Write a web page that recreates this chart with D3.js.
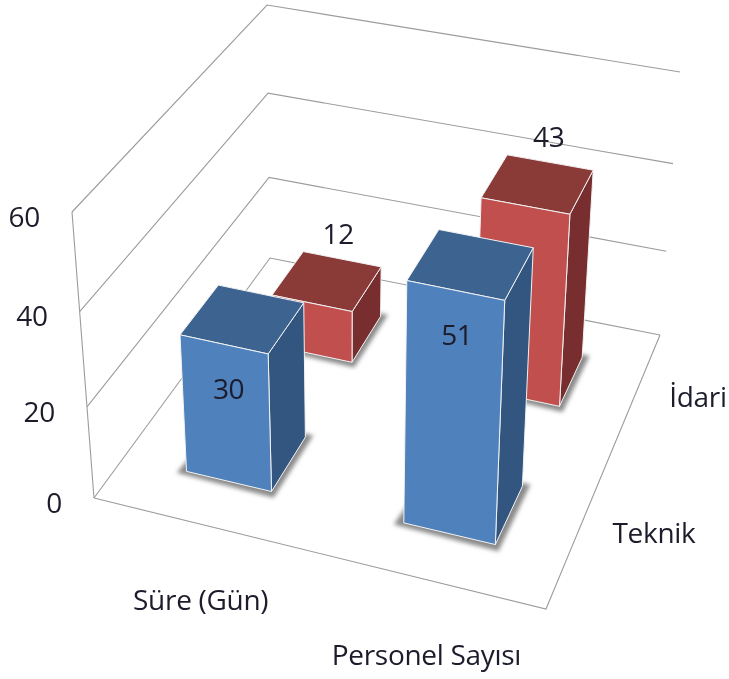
<!DOCTYPE html>
<html>
<head>
<meta charset="utf-8">
<script src="https://cdn.jsdelivr.net/npm/d3@7"></script>
<style>
  body { margin: 0; background: #fff; }
  text { font-family: "Open Sans", sans-serif; font-size: 28px; letter-spacing: -0.3px; fill: #1b1b2b; }
</style>
</head>
<body>
<div id="chart"></div>
<script>
//data
let categories = ["Süre (Gün)", "Personel Sayısı"]
let seriesNames = ["Teknik", "İdari"]
let teknik = [30, 51]
let idari = [12, 43]
let yTicks = [0, 20, 40, 60]

let width = 729
let height = 679

//the box corners on screen: fl = front left, fr = front right, br = back right, bl = back left
let floorQuad = { fl: [94, 498], fr: [546, 609], br: [660, 335], bl: [270, 258] }
let topQuad = { fl: [72, 212], fr: [562, 312], br: [680, 72], bl: [267, 5] }

//heights get a bit bigger going up, the camera is looking down
let heightPerspective = 1.07

let colors = {
  "Teknik": { front: "#4f81bd", top: "#3c6491", side: "#33577f" },
  "İdari": { front: "#c0504d", top: "#8a3a38", side: "#782f2d" }
}

//where the value labels sit relative to the middle of the bar top
let valueOffset = { "Teknik": [-14, 71], "İdari": [11, -47] }

let svg = d3.select("#chart").append("svg")
  .attr("width", width)
  .attr("height", height)
  .style("display", "block")

let defs = svg.append("defs")
defs.append("filter").attr("id", "soft")
  .append("feGaussianBlur").attr("stdDeviation", 0.55)
defs.append("filter").attr("id", "shadow")
  .attr("x", "-20%").attr("y", "-20%").attr("width", "140%").attr("height", "140%")
  .append("feGaussianBlur").attr("stdDeviation", 2)

let root = svg.append("g").attr("filter", "url(#soft)")

//scales work in unit box space, project() turns that into pixels
let xScale = d3.scaleBand(categories, [0, 1]).paddingInner(0.6).paddingOuter(0.3)
let zScale = d3.scaleBand(seriesNames, [0, 1]).paddingInner(0.6).paddingOuter(0.3)
let yScale = d3.scaleLinear([0, 60], [0, 1])

//unit square to quad homography
function makeHomography(q) {
  let [x0, y0] = q.fl, [x1, y1] = q.fr, [x2, y2] = q.br, [x3, y3] = q.bl
  let dx1 = x1 - x2, dx2 = x3 - x2, sx = x0 - x1 + x2 - x3
  let dy1 = y1 - y2, dy2 = y3 - y2, sy = y0 - y1 + y2 - y3
  let det = dx1 * dy2 - dx2 * dy1
  let g = (sx * dy2 - dx2 * sy) / det
  let h = (dx1 * sy - sx * dy1) / det
  return (u, w) => {
    let d = g * u + h * w + 1
    return [
      (x1 - x0 + g * x1) * u / d + (x3 - x0 + h * x3) * w / d + x0 / d,
      (y1 - y0 + g * y1) * u / d + (y3 - y0 + h * y3) * w / d + y0 / d
    ]
  }
}

let floorH = makeHomography(floorQuad)
let topH = makeHomography(topQuad)

function project(u, w, value) {
  let c = heightPerspective
  let s = yScale(value)
  let t = s / (c - (c - 1) * s)
  let a = floorH(u, w)
  let b = topH(u, w)
  return [a[0] + (b[0] - a[0]) * t, a[1] + (b[1] - a[1]) * t]
}

let line = d3.line()
let closed = pts => line(pts) + "Z"

//gridlines on the two walls
let grid = root.append("g").attr("fill", "none").attr("stroke", "#9c9c9c").attr("stroke-width", 1.1)

grid.selectAll(".gridline")
  .data(yTicks)
  .enter()
  .append("path")
  .attr("class", "gridline")
  .attr("d", v => line([project(0, 0, v), project(0, 1, v), project(1, 1, v)]))

//floor front and right edge, and the wall's front vertical
grid.append("path")
  .attr("d", line([project(0, 0, 0), project(1, 0, 0), project(1, 1, 0)]))
grid.append("path")
  .attr("d", line([project(0, 0, 0), project(0, 0, yTicks[yTicks.length - 1])]))

//one row per bar, back row first so the front bars cover it
let bars = []
seriesNames.slice().reverse().forEach(s => {
  let vals = s == "Teknik" ? teknik : idari
  categories.forEach((c, i) => bars.push({ category: c, series: s, value: vals[i] }))
})

function corners(d) {
  let u0 = xScale(d.category), u1 = u0 + xScale.bandwidth()
  let w0 = zScale(d.series), w1 = w0 + zScale.bandwidth()
  return { u0, u1, w0, w1 }
}

let shadows = root.append("g")
shadows.selectAll("path")
  .data(bars)
  .enter()
  .append("path")
  .attr("fill", "#8a8a8a")
  .attr("filter", "url(#shadow)")
  .attr("d", d => {
    let c = corners(d)
    let pad = 0.012
    return closed([
      project(c.u0 - pad * 1.5, c.w0 - pad, 0),
      project(c.u1 + pad, c.w0 - pad * 1.5, 0),
      project(c.u1 + pad * 1.2, c.w1 + pad, 0),
      project(c.u0, c.w1, 0)
    ])
  })

let barGroups = root.selectAll(".bar")
  .data(bars)
  .enter()
  .append("g")
  .attr("class", "bar")
  .attr("stroke", "#f2f2f2")
  .attr("stroke-width", 1)
  .attr("stroke-linejoin", "round")

//side face
barGroups.append("path")
  .attr("fill", d => colors[d.series].side)
  .attr("d", d => {
    let c = corners(d)
    return closed([
      project(c.u1, c.w0, 0), project(c.u1, c.w1, 0),
      project(c.u1, c.w1, d.value), project(c.u1, c.w0, d.value)
    ])
  })

//top face
barGroups.append("path")
  .attr("fill", d => colors[d.series].top)
  .attr("d", d => {
    let c = corners(d)
    return closed([
      project(c.u0, c.w0, d.value), project(c.u1, c.w0, d.value),
      project(c.u1, c.w1, d.value), project(c.u0, c.w1, d.value)
    ])
  })

//front face
barGroups.append("path")
  .attr("fill", d => colors[d.series].front)
  .attr("d", d => {
    let c = corners(d)
    return closed([
      project(c.u0, c.w0, 0), project(c.u1, c.w0, 0),
      project(c.u1, c.w0, d.value), project(c.u0, c.w0, d.value)
    ])
  })

//value labels
root.selectAll(".value")
  .data(bars)
  .enter()
  .append("text")
  .attr("class", "value")
  .attr("text-anchor", "middle")
  .attr("dy", "0.35em")
  .attr("transform", d => {
    let c = corners(d)
    let p = project((c.u0 + c.u1) / 2, (c.w0 + c.w1) / 2, d.value)
    let off = valueOffset[d.series]
    return "translate(" + (p[0] + off[0]) + "," + (p[1] + off[1]) + ")"
  })
  .text(d => d.value)

//value axis labels
root.selectAll(".ytick")
  .data(yTicks)
  .enter()
  .append("text")
  .attr("class", "ytick")
  .attr("text-anchor", "end")
  .attr("dy", "0.35em")
  .attr("transform", v => {
    let p = project(0, 0, v)
    return "translate(" + (p[0] - 32) + "," + (p[1] + 5) + ")"
  })
  .text(v => v)

//category labels under the front edge
root.selectAll(".category")
  .data(categories)
  .enter()
  .append("text")
  .attr("class", "category")
  .attr("text-anchor", "middle")
  .attr("dy", "0.35em")
  .attr("transform", c => {
    let p = project(xScale(c) + xScale.bandwidth() / 2, 0, 0)
    return "translate(" + p[0] + "," + (p[1] + 76) + ")"
  })
  .text(c => c)

//series labels right of the floor
root.selectAll(".series")
  .data(seriesNames)
  .enter()
  .append("text")
  .attr("class", "series")
  .attr("dy", "0.35em")
  .attr("transform", s => {
    let p = project(1, zScale(s) + zScale.bandwidth() / 2, 0)
    return "translate(" + (p[0] + 34) + "," + (p[1] + 2) + ")"
  })
  .text(s => s)
</script>
</body>
</html>
